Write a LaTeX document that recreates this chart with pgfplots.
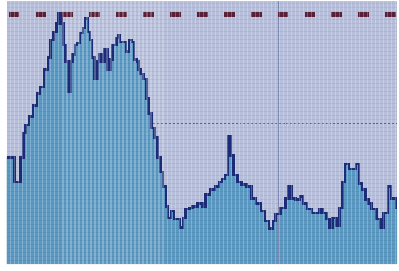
\documentclass[border=0pt]{standalone}
\usepackage{pgfplots}
\usepackage{pgfplotstable}
\pgfplotsset{compat=1.18}
\definecolor{bgc}{HTML}{B6BEDA}
\definecolor{fillc}{HTML}{5A98C2}
\definecolor{linec}{HTML}{1C2C78}
\definecolor{mk}{HTML}{5A2038}
\pgfplotstableread{
x y
0 160
8 185
14 160
17 135
19 127
23 118
27 107
31 95
34 88
38 70
42 58
45 40
48 32
51 23
53 13
56 23
58 45
60 62
63 93
65 62
67 55
70 45
72 43
75 33
78 28
80 18
83 32
85 40
87 58
90 80
93 62
95 55
97 62
100 50
103 70
106 60
108 45
112 38
114 35
116 42
119 42
122 52
125 40
128 42
130 60
133 62
135 70
137 75
140 80
143 100
145 115
148 130
151 140
154 160
157 175
160 190
163 210
165 222
168 215
171 223
174 223
177 232
180 222
183 213
187 212
190 210
195 207
200 210
203 198
208 193
213 190
217 185
220 182
223 178
226 138
229 158
232 178
236 185
240 188
245 190
250 202
255 207
260 215
264 225
268 233
272 225
275 218
280 212
285 202
288 190
291 202
295 203
300 200
303 207
307 213
312 217
317 217
320 213
323 217
327 223
330 232
333 222
337 230
340 212
343 185
346 167
350 172
354 172
357 167
360 187
363 193
367 203
370 207
373 213
378 223
382 232
385 217
390 190
393 202
398 212
399 212
}\wave
\begin{document}
\begin{tikzpicture}
\begin{axis}[
  scale only axis, width=399pt, height=269pt,
  xmin=0, xmax=399, ymin=0, ymax=269,
  axis background/.style={fill=bgc},
  axis line style={draw=none}, tick style={draw=none},
  xticklabels={}, yticklabels={},
  xtick distance=4.1, ytick distance=4.1,
  xmajorgrids, ymajorgrids,
  x grid style={white, opacity=0.25, line width=1.3pt},
  y grid style={black, opacity=0.05, line width=0.6pt},
  axis on top,
]
\addplot[const plot, fill=fillc, draw=none] table[x=x, y expr=269-\thisrow{y}] {\wave} \closedcycle;
\addplot[draw=linec!35!bgc, line width=1pt] coordinates {(278,0) (278,269)};
\addplot[draw=gray!60!blue!80!bgc, line width=0.9pt, dash pattern=on 2pt off 2pt] coordinates {(150,144) (399,144)};
\addplot[const plot, draw=linec, line width=2.6pt] table[x=x, y expr=269-\thisrow{y}] {\wave};
\addplot[draw=mk, line width=5pt, dash pattern=on 11pt off 16.5pt, dash phase=-2pt] coordinates {(0,255) (399,255)};
\end{axis}
\end{tikzpicture}
\end{document}
